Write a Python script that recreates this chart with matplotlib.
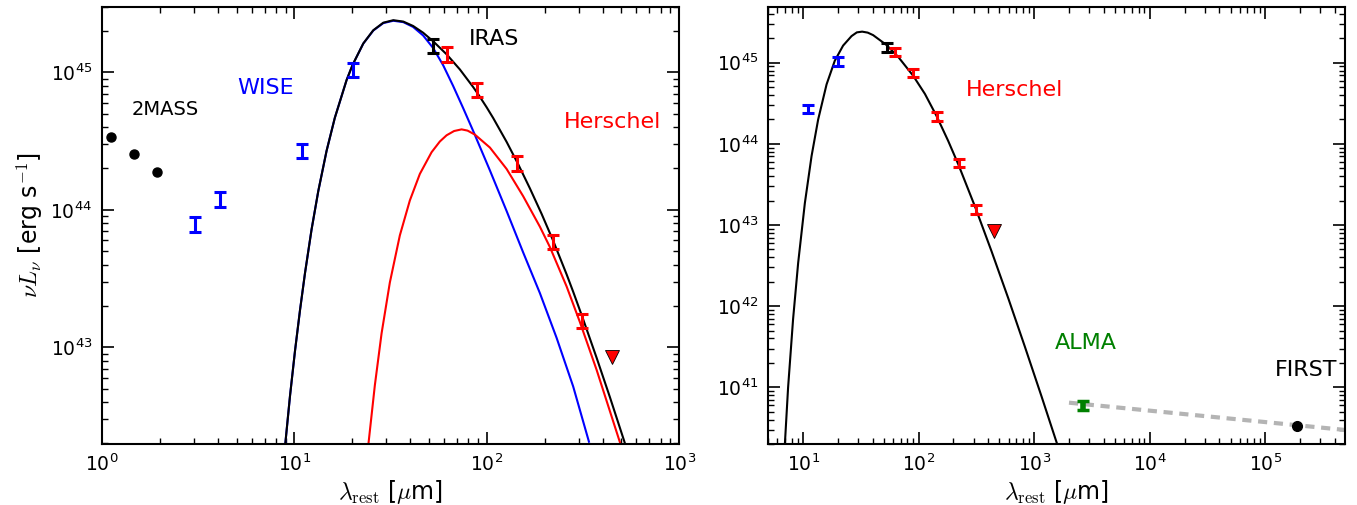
import numpy as np
import matplotlib
matplotlib.use('Agg')
import matplotlib.pyplot as plt

plt.rcParams['mathtext.fontset'] = 'cm'
plt.rcParams['font.family'] = 'DejaVu Sans'

# --- photometry (rest-frame wavelength in micron, nuL_nu in erg/s) ---
twomass_wl = [1.11, 1.47, 1.94]
twomass_L = [3.38e44, 2.55e44, 1.89e44]

wise_wl = [3.04, 4.11, 11.0, 20.1]
wise_L = [7.9e43, 1.2e44, 2.7e44, 1.05e45]

iras_wl = [52.8]
iras_L = [1.56e45]

herschel_wl = [61.8, 88.5, 142.9, 221.3, 311.2]
herschel_L = [1.36e45, 7.48e44, 2.19e44, 5.87e43, 1.56e43]

herschel_lim_wl = [445.0]
herschel_lim_L = [8.5e42]

alma_wl = [2655.0]
alma_L = [6.04e40]

first_wl = [1.87e5]
first_L = [3.36e40]

err_frac = 0.12

# --- model curves, as log10(wavelength), log10(nuL_nu) ---
# left panel: total, warm (blue) and cold (red) components
total_logwl = [0.952, 0.977, 1.003, 1.029, 1.055, 1.089, 1.124, 1.167, 1.210, 1.271,
               1.302, 1.358, 1.410, 1.462, 1.514, 1.566, 1.617, 1.669, 1.721, 1.791,
               1.860, 1.929, 1.955, 1.999, 2.033, 2.103, 2.163, 2.224, 2.285, 2.345,
               2.415, 2.449, 2.498, 2.571, 2.640, 2.714, 2.720]
total_logL = [42.290, 42.646, 42.974, 43.270, 43.540, 43.856, 44.136, 44.428, 44.669,
              44.943, 45.053, 45.210, 45.306, 45.361, 45.379, 45.369, 45.337, 45.288,
              45.226, 45.131, 45.021, 44.893, 44.841, 44.746, 44.668, 44.494, 44.332,
              44.156, 43.970, 43.775, 43.530, 43.404, 43.215, 42.923, 42.637, 42.319,
              42.293]

warm_logwl = [0.952, 0.977, 1.003, 1.029, 1.055, 1.089, 1.124, 1.167, 1.210, 1.271,
              1.302, 1.358, 1.410, 1.462, 1.514, 1.566, 1.617, 1.669, 1.721, 1.773,
              1.825, 1.877, 1.929, 2.016, 2.103, 2.189, 2.276, 2.363, 2.449, 2.531]
warm_logL = [42.290, 42.646, 42.974, 43.270, 43.540, 43.856, 44.136, 44.428, 44.669,
             44.943, 45.053, 45.209, 45.304, 45.358, 45.375, 45.365, 45.330, 45.268,
             45.177, 45.052, 44.901, 44.740, 44.574, 44.287, 43.991, 43.690, 43.394,
             43.068, 42.715, 42.313]

cold_logwl = [1.384, 1.418, 1.453, 1.496, 1.548, 1.600, 1.652, 1.713, 1.756, 1.791,
              1.830, 1.869, 1.900, 1.938, 2.016, 2.103, 2.189, 2.276, 2.328, 2.415,
              2.484, 2.571, 2.692]
cold_logL = [42.288, 42.723, 43.101, 43.471, 43.814, 44.068, 44.261, 44.419, 44.497,
             44.542, 44.573, 44.585, 44.576, 44.547, 44.453, 44.297, 44.099, 43.877,
             43.729, 43.442, 43.183, 42.835, 42.309]

# right panel: single dust model + radio power law
dust_logwl = [0.842, 0.870, 0.913, 0.957, 1.015, 1.073, 1.130, 1.203, 1.274, 1.346,
              1.419, 1.465, 1.511, 1.559, 1.606, 1.722, 1.823, 1.952, 2.054, 2.155,
              2.255, 2.342, 2.487, 2.631, 2.775, 2.919, 3.064, 3.188, 3.200]
dust_logL = [40.298, 40.998, 41.837, 42.532, 43.269, 43.849, 44.299, 44.733, 45.024,
             45.211, 45.328, 45.374, 45.383, 45.371, 45.340, 45.218, 45.072, 44.840,
             44.616, 44.343, 44.038, 43.751, 43.229, 42.675, 42.099, 41.501, 40.885,
             40.346, 40.294]

radio_wl = [2.0e3, 5.0e5]
radio_L = [6.46e40, 2.97e40]

fig = plt.figure(figsize=(13.57, 5.05), dpi=100)
ax1 = fig.add_axes([0.0752, 0.1208, 0.4253, 0.8659])
ax2 = fig.add_axes([0.5662, 0.1208, 0.4250, 0.8659])

eb = dict(fmt='none', elinewidth=2.2, capsize=4.5, capthick=2.2)


def yerr(vals):
    v = np.array(vals)
    return v * err_frac


def unlog(a):
    return 10.0 ** np.array(a)


# ---------- left panel ----------
ax1.plot(unlog(warm_logwl), unlog(warm_logL), color='blue', lw=1.5)
ax1.plot(unlog(cold_logwl), unlog(cold_logL), color='red', lw=1.5)
ax1.plot(unlog(total_logwl), unlog(total_logL), color='black', lw=1.5)

ax1.plot(twomass_wl, twomass_L, 'o', color='black', ms=6.5)
ax1.errorbar(wise_wl, wise_L, yerr=yerr(wise_L), ecolor='blue', **eb)
ax1.errorbar(iras_wl, iras_L, yerr=yerr(iras_L), ecolor='black', **eb)
ax1.errorbar(herschel_wl, herschel_L, yerr=yerr(herschel_L), ecolor='red', **eb)
ax1.plot(herschel_lim_wl, herschel_lim_L, 'v', color='red', mec='black', mew=0.6, ms=10)

ax1.text(1.43, 4.92e44, '2MASS', color='black', fontsize=14)
ax1.text(5.07, 7.0e44, 'WISE', color='blue', fontsize=16)
ax1.text(80.7, 1.57e45, 'IRAS', color='black', fontsize=16)
ax1.text(252.6, 3.94e44, 'Herschel', color='red', fontsize=16)

ax1.set_xlim(1, 1000)
ax1.set_ylim(1.98e42, 3.0e45)

# ---------- right panel ----------
ax2.plot(unlog(dust_logwl), unlog(dust_logL), color='black', lw=1.5)
ax2.plot(radio_wl, radio_L, color='#b4b4b4', lw=3, dashes=(2.2, 1.6))

ax2.errorbar(wise_wl[2:], wise_L[2:], yerr=yerr(wise_L[2:]), ecolor='blue', **eb)
ax2.errorbar(iras_wl, iras_L, yerr=yerr(iras_L), ecolor='black', **eb)
ax2.errorbar(herschel_wl, herschel_L, yerr=yerr(herschel_L), ecolor='red', **eb)
ax2.plot(herschel_lim_wl, herschel_lim_L, 'v', color='red', mec='black', mew=0.6, ms=10)
ax2.errorbar(alma_wl, alma_L, yerr=yerr(alma_L), ecolor='green', fmt='none',
             elinewidth=4, capsize=4.5, capthick=2.5)
ax2.plot(first_wl, first_L, 'o', color='black', ms=7)

ax2.text(254.6, 3.87e44, 'Herschel', color='red', fontsize=16)
ax2.text(1510, 2.94e41, 'ALMA', color='green', fontsize=16)
ax2.text(1.21e5, 1.38e41, 'FIRST', color='black', fontsize=16)

ax2.set_xlim(5.0, 4.9e5)
ax2.set_ylim(2.0e40, 4.9e45)

for ax in (ax1, ax2):
    ax.set_xscale('log')
    ax.set_yscale('log')
    ax.tick_params(which='both', direction='in', top=True, right=True, labelsize=13.5)
    ax.tick_params(which='major', length=8.5, width=1.2, pad=7)
    ax.tick_params(which='minor', length=4.5, width=1.0)
    for s in ax.spines.values():
        s.set_linewidth(1.5)
    ax.set_xlabel(r'$\lambda_{\rm rest}$ [$\mu$m]', fontsize=17, labelpad=2)

ax1.set_ylabel(r'$\nu L_\nu$ [erg s$^{-1}$]', fontsize=17)

fig.savefig('out.png', dpi=100)
